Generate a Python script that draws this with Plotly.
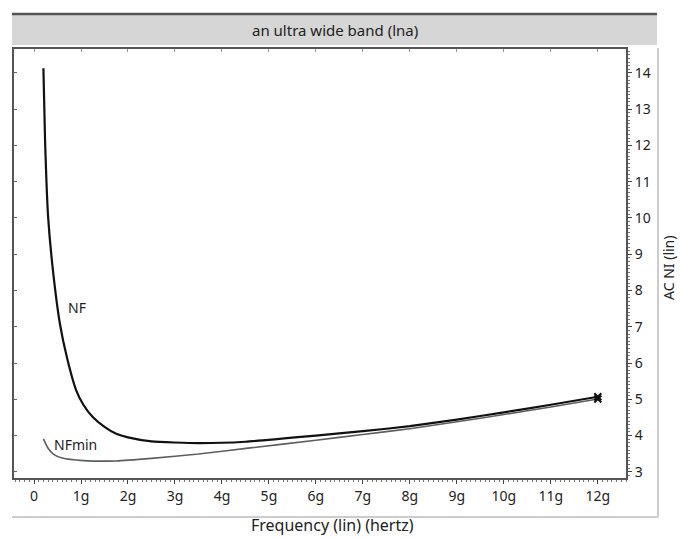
import plotly.graph_objects as go

# ---- data (frequency in GHz, noise figure linear) ----
nf_freq = [0.2, 0.235, 0.3, 0.41, 0.55, 0.7, 0.9, 1.05, 1.25, 1.5, 1.75, 2.0, 2.5, 3.5, 4.5, 6.0, 7.0, 8.0, 9.0, 10.0, 11.0, 12.0]
nf_vals = [14.13, 12.15, 10.03, 8.47, 7.09, 6.16, 5.24, 4.85, 4.51, 4.24, 4.05, 3.95, 3.84, 3.79, 3.83, 4.0, 4.12, 4.26, 4.44, 4.64, 4.85, 5.07]

nfmin_freq = [0.2, 0.3, 0.41, 0.6, 1.05, 1.75, 2.5, 3.5, 4.6, 6.0, 7.0, 8.0, 9.0, 10.0, 11.0, 12.0]
nfmin_vals = [3.91, 3.65, 3.49, 3.38, 3.31, 3.30, 3.37, 3.49, 3.66, 3.87, 4.03, 4.19, 4.38, 4.58, 4.79, 5.01]

x_tick_vals = list(range(0, 13))
x_tick_text = ["0", "1g", "2g", "3g", "4g", "5g", "6g", "7g", "8g", "9g", "10g", "11g", "12g"]
y_tick_vals = list(range(3, 15))

title_text = "an ultra wide band (lna)"
x_title = "Frequency (lin) (hertz)"
y_title = "AC NI (lin)"

FONT = "Noto Sans"

fig = go.Figure()
fig.add_trace(go.Scatter(x=nf_freq, y=nf_vals, mode="lines", line=dict(color="#111111", width=2.2, shape="spline", smoothing=0.5), showlegend=False))
fig.add_trace(go.Scatter(x=nfmin_freq, y=nfmin_vals, mode="lines", line=dict(color="#5e5e5e", width=1.6, shape="spline", smoothing=0.5), showlegend=False))
fig.add_trace(go.Scatter(x=[nf_freq[-1], nfmin_freq[-1]], y=[nf_vals[-1], nfmin_vals[-1]], mode="markers",
                         marker=dict(symbol="x-thin", size=7, line=dict(color="#111111", width=2)), showlegend=False))

xr = [-0.426, 12.6]
yr = [2.83, 14.66]

fig.update_layout(
    width=681, height=538,
    margin=dict(l=14, r=55, t=49, b=60),
    paper_bgcolor="white", plot_bgcolor="white",
    font=dict(family=FONT, size=13, color="#222222"),
    xaxis=dict(range=xr, tickvals=x_tick_vals, ticktext=x_tick_text, ticks="outside", ticklen=4, tickcolor="#444",
               showgrid=False, zeroline=False, showline=True, linecolor="#555", linewidth=2, mirror=True,
               minor=dict(ticks="outside", ticklen=2, dtick=0.1, tickcolor="#777", showgrid=False),
               tickfont=dict(size=14)),
    yaxis=dict(range=yr, tickvals=y_tick_vals, side="right", ticks="outside", ticklen=4, tickcolor="#444",
               showgrid=False, zeroline=False, showline=True, linecolor="#555", linewidth=2, mirror=True,
               minor=dict(ticks="outside", ticklen=2, dtick=0.1, tickcolor="#777", showgrid=False),
               tickfont=dict(size=14)),
    yaxis2=dict(range=yr, overlaying="y", side="left", tickvals=y_tick_vals, ticks="inside", ticklen=3,
                tickcolor="#666", showticklabels=False, showgrid=False, zeroline=False, showline=False),
    xaxis2=dict(range=xr, overlaying="x", side="top", tickvals=x_tick_vals, ticks="inside", ticklen=3,
                tickcolor="#999", showticklabels=False, showgrid=False, zeroline=False, showline=False),
)
# dummy trace to activate the overlay axes
fig.add_trace(go.Scatter(x=[None], y=[None], yaxis="y2", xaxis="x2", showlegend=False, hoverinfo="skip"))

def px_x(p):
    return (p - 14) / 612.0

def px_y(p):
    return (478 - p) / 429.0

shapes = [
    dict(type="rect", xref="paper", yref="paper", x0=px_x(12), x1=px_x(657), y0=px_y(45), y1=px_y(15),
         fillcolor="#d6d6d6", line=dict(width=0), layer="below"),
    dict(type="line", xref="paper", yref="paper", x0=px_x(12), x1=px_x(657), y0=px_y(14), y1=px_y(14),
         line=dict(color="#555555", width=2.5)),
    dict(type="line", xref="paper", yref="paper", x0=px_x(658), x1=px_x(658), y0=px_y(48), y1=px_y(517),
         line=dict(color="#cccccc", width=2)),
    dict(type="line", xref="paper", yref="paper", x0=px_x(12), x1=px_x(658), y0=px_y(517), y1=px_y(517),
         line=dict(color="#cccccc", width=2)),
]
fig.update_layout(shapes=shapes)

annotations = [
    dict(text=title_text, xref="paper", yref="paper", x=px_x(334.5), y=px_y(30), showarrow=False,
         xanchor="center", yanchor="middle", font=dict(size=15, color="#222222")),
    dict(text=x_title, xref="paper", yref="paper", x=px_x(332), y=px_y(525), showarrow=False,
         xanchor="center", yanchor="middle", font=dict(size=16, color="#222222")),
    dict(text=y_title, xref="paper", yref="paper", x=px_x(668), y=px_y(268), showarrow=False, textangle=-90,
         xanchor="center", yanchor="middle", font=dict(size=14, color="#222222")),
    dict(text="NF", x=0.68, y=7.52, xref="x", yref="y", showarrow=False, xanchor="left", yanchor="middle",
         font=dict(size=14, color="#222222")),
    dict(text="NFmin", x=0.38, y=3.76, xref="x", yref="y", showarrow=False, xanchor="left", yanchor="middle",
         font=dict(size=14, color="#222222")),
]
fig.update_layout(annotations=annotations)

fig.write_html("out.html", config={"displayModeBar": False},
               post_script="document.body.style.margin='0';document.body.style.overflow='hidden';")
